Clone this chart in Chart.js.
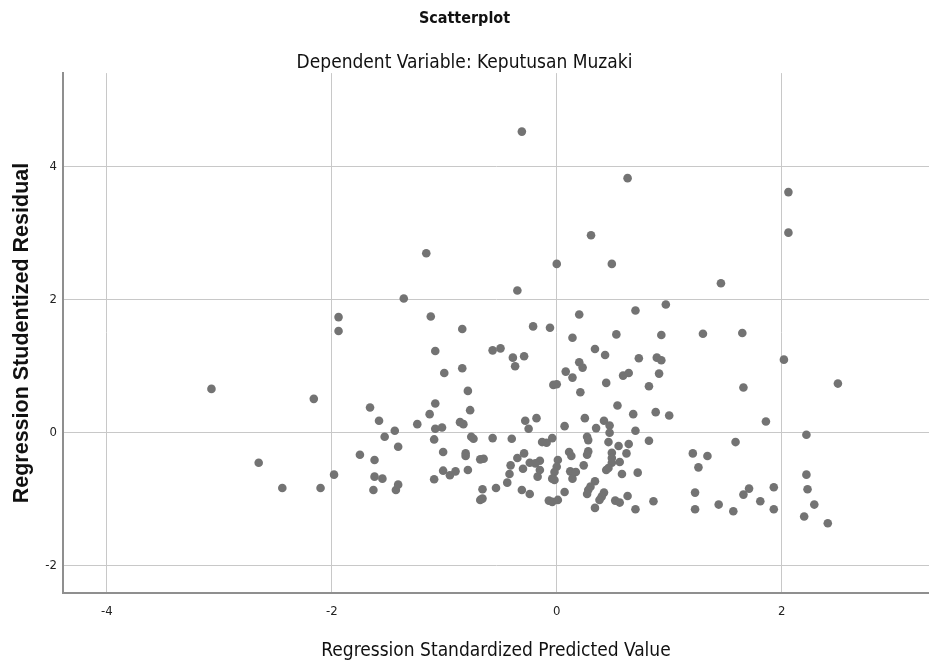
<!DOCTYPE html>
<html>
<head>
<meta charset="utf-8">
<script src="https://cdn.jsdelivr.net/npm/chart.js@4.4.1/dist/chart.umd.min.js"></script>
<style>
  html, body { margin: 0; padding: 0; background: #fff; }
  #scatter { display: block; }
</style>
</head>
<body>
<canvas id="scatter" width="929" height="671"></canvas>
<script>
"use strict";

/* values */
var xValues = [
    -3.07, -2.16, -2.65, -2.44, -2.10,
    -0.31, -1.16, 0.00, -1.36, -0.35, -1.94, -1.12,
    0.63, 0.305, 0.49, 1.46, 2.06, 2.06, 0.20, 0.70, 0.97,
    2.02, 2.50, 1.86, 2.22, 2.22, 1.93, 2.23, 1.81, 2.29, 1.93, 2.20, 2.41,
    -0.06, 0.14, 0.53, 0.93, 1.30, 1.65, 1.66, 1.59, 1.21, 1.34, 1.26, 1.23, 1.23, 1.44, 1.57, 1.66, 1.71,
    0.34, 0.43, 0.73, 0.89, 0.93, 0.20, 0.23, 0.08, 0.14, -0.03, 0.00, 0.59, 0.64, 0.91, 0.44, 0.82,
    0.21, 0.54, 0.68, 0.88, 1.00, 0.25, 0.07, 0.42, 0.35, 0.47, 0.70, 0.47, 0.27, 0.28, 0.46, 0.82,
    0.55, 0.64, -0.04, -0.09, -0.13, 0.28, 0.49, 0.62, 0.11, 0.13, 0.27, 0.49, 0.49, 0.56, 0.01, 0.00,
    -0.15, 0.24, 0.46, 0.44, 0.58, 0.72, -0.02, 0.12, 0.17, 0.14, -0.04, -0.02, 0.34, 0.30, 0.28, 0.27,
    0.42, 0.40, 0.38, 0.34, 0.07, -0.07, -0.04, 0.01, 0.52, 0.56, 0.63, 0.70, 0.86,
    -1.94, -0.84, -0.21, -1.08, -0.84, -1.00, -0.57, -0.50, -0.39, -0.37, -0.29, -0.79, -0.77, -1.66,
    -1.58, -1.53, -1.44, -1.41, -1.24, -1.13, -1.08, -1.08, -1.02, -1.09, -1.01, -0.86, -0.83, -0.76,
    -0.74, -0.57, -0.40, -0.28, -0.25, -0.18, -0.81, -0.81, -1.75, -1.62, -1.98, -1.62, -1.55, -1.63,
    -1.43, -1.41, -1.09, -1.01, -0.95, -0.90, -0.79, -0.68, -0.65, -0.41, -0.35, -0.29, -0.30, -0.24,
    -0.19, -0.15, -0.17, -0.42, -0.44, -0.54, -0.66, -0.68, -0.66, -0.31, -0.24
];
var yValues = [
    0.66, 0.51, -0.45, -0.83, -0.83,
    4.53, 2.70, 2.54, 2.02, 2.14, 1.74, 1.75,
    3.83, 2.97, 2.54, 2.25, 3.62, 3.01, 1.78, 1.84, 1.93,
    1.10, 0.74, 0.17, -0.03, -0.63, -0.82, -0.85, -1.03, -1.08, -1.15, -1.26, -1.36,
    1.58, 1.43, 1.48, 1.47, 1.49, 1.50, 0.68, -0.14, -0.31, -0.35, -0.52, -0.90, -1.15, -1.08, -1.18, -0.93, -0.84,
    1.26, 1.17, 1.12, 1.13, 1.09, 1.06, 0.98, 0.92, 0.83, 0.72, 0.73, 0.86, 0.90, 0.89, 0.75, 0.70,
    0.61, 0.41, 0.28, 0.31, 0.26, 0.22, 0.10, 0.18, 0.07, 0.11, 0.03, 0.00, -0.06, -0.11, -0.14, -0.12,
    -0.20, -0.17, -0.08, -0.15, -0.14, -0.28, -0.30, -0.31, -0.29, -0.35, -0.33, -0.38, -0.45, -0.44, -0.41, -0.51,
    -0.42, -0.49, -0.53, -0.56, -0.62, -0.60, -0.59, -0.58, -0.59, -0.69, -0.69, -0.71, -0.73, -0.81, -0.86, -0.92,
    -0.90, -0.96, -1.01, -1.13, -0.89, -1.02, -1.04, -1.01, -1.02, -1.05, -0.95, -1.15, -1.03,
    1.53, 1.56, 1.60, 1.23, 0.97, 0.90, 1.24, 1.27, 1.13, 1.00, 1.15, 0.63, 0.34, 0.38,
    0.18, -0.06, 0.03, -0.21, 0.13, 0.28, 0.44, 0.06, 0.08, -0.10, -0.29, 0.16, 0.13, -0.06,
    -0.09, -0.08, -0.09, 0.18, 0.06, 0.22, -0.31, -0.35, -0.33, -0.41, -0.63, -0.66, -0.69, -0.86,
    -0.86, -0.78, -0.70, -0.57, -0.64, -0.58, -0.56, -0.40, -0.39, -0.49, -0.38, -0.31, -0.54, -0.45,
    -0.46, -0.56, -0.66, -0.62, -0.75, -0.83, -0.85, -1.01, -0.99, -0.86, -0.92
];
var xTicks = [-4, -2, 0, 2];
var yTicks = [-2, 0, 2, 4];

var chartTitle = 'Scatterplot';
var chartSubtitle = 'Dependent Variable: Keputusan Muzaki';
var xTitle = 'Regression Standardized Predicted Value';
var yTitle = 'Regression Studentized Residual';

var narrow = "'Liberation Sans Narrow', 'DejaVu Sans Condensed', 'Liberation Sans', sans-serif";
var wide = "'Liberation Sans', Arial, sans-serif";

var points = xValues.map(function (x, i) {
    return { x: x, y: yValues[i] };
});

var ctx = document.getElementById('scatter').getContext('2d');
var scatterChart = new Chart(ctx, {
    type: 'scatter',
    data: {
        datasets: [{
            label: 'residuals',
            data: points,
            backgroundColor: '#737373',
            borderWidth: 0,
            pointRadius: 4.3,
            pointHoverRadius: 4.3
        }]
    },
    options: {
        responsive: false,
        animation: false,
        devicePixelRatio: 1,
        layout: { autoPadding: false, padding: 0 },
        plugins: {
            legend: { display: false },
            tooltip: { enabled: false },
            title: {
                display: true,
                text: chartTitle,
                color: '#111',
                font: { family: narrow, size: 16, weight: 'bold' },
                padding: { top: 9, bottom: 0 }
            },
            subtitle: {
                display: true,
                text: chartSubtitle,
                color: '#111',
                font: { family: narrow, size: 19, weight: 'normal', lineHeight: 1.1 },
                padding: { top: 24, bottom: 0 }
            }
        },
        scales: {
            x: {
                type: 'linear',
                min: -4.39,
                max: 3.31,
                afterBuildTicks: function (scale) {
                    scale.ticks = xTicks.map(function (v) { return { value: v }; });
                },
                afterFit: function (scale) {
                    scale.height = 78;
                    scale.paddingLeft = 0;
                    scale.paddingRight = 0;
                },
                grid: { color: '#c8c8c8', lineWidth: 1, drawTicks: false },
                border: { color: '#8f8f8f', width: 2 },
                ticks: {
                    color: '#222',
                    font: { family: narrow, size: 13 },
                    padding: 11,
                    maxRotation: 0
                },
                title: {
                    display: true,
                    text: xTitle,
                    color: '#111',
                    font: { family: narrow, size: 19 },
                    padding: { top: 0, bottom: 9 }
                }
            },
            y: {
                type: 'linear',
                min: -2.41,
                max: 5.41,
                afterBuildTicks: function (scale) {
                    scale.ticks = yTicks.map(function (v) { return { value: v }; });
                },
                afterFit: function (scale) {
                    scale.width = 63;
                    scale.paddingTop = 0;
                    scale.paddingBottom = 0;
                },
                grid: { color: '#c8c8c8', lineWidth: 1, drawTicks: false },
                border: { color: '#8f8f8f', width: 2 },
                ticks: {
                    color: '#222',
                    font: { family: narrow, size: 13 },
                    padding: 6
                },
                title: {
                    display: true,
                    text: yTitle,
                    color: '#111',
                    font: { family: wide, size: 21.5, weight: 'bold', lineHeight: 1.1 },
                    padding: { top: 10, bottom: 0 }
                }
            }
        }
    }
});
</script>
</body>
</html>
